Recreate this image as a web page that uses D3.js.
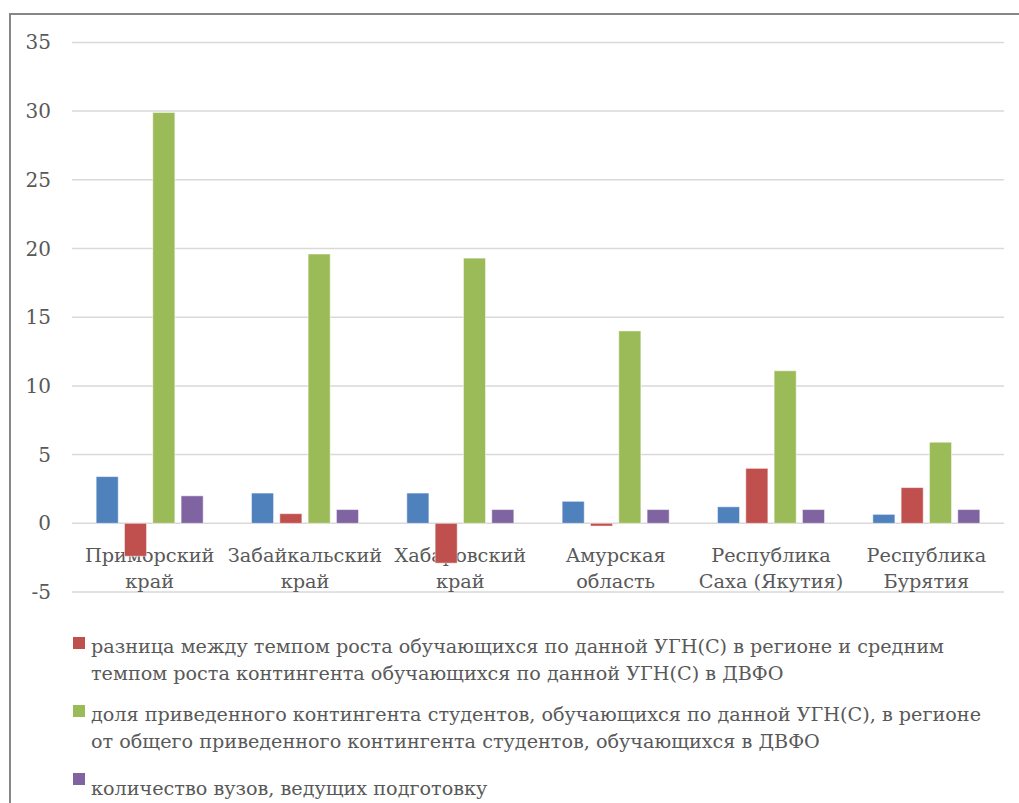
<!DOCTYPE html>
<html>
<head>
<meta charset="utf-8">
<script src="https://cdn.jsdelivr.net/npm/d3@7"></script>
<style>
  html, body { margin: 0; padding: 0; background: #fff; }
</style>
</head>
<body>
<div id="chart"></div>
<script>
// categories (two-line labels)
var regions = [
  ["Приморский", "край"],
  ["Забайкальский", "край"],
  ["Хабаровский", "край"],
  ["Амурская", "область"],
  ["Республика", "Саха (Якутия)"],
  ["Республика", "Бурятия"]
]

// series values
var blueVals   = [3.4, 2.2, 2.2, 1.6, 1.2, 0.65]
var redVals    = [-2.4, 0.7, -2.9, -0.2, 4.0, 2.6]
var greenVals  = [29.9, 19.6, 19.3, 14.0, 11.1, 5.9]
var purpleVals = [2, 1, 1, 1, 1, 1]

var seriesNames = ["s1", "s2", "s3", "s4"]
var seriesColors = ["#4F81BD", "#C0504D", "#9BBB59", "#8064A2"]

var yTicks = [-5, 0, 5, 10, 15, 20, 25, 30, 35]

// legend (first entry is not visible in the picture)
var legendItems = [
  {color: "#C0504D", lines: ["разница между темпом роста обучающихся по данной УГН(С) в регионе и средним",
                             "темпом роста контингента обучающихся по данной УГН(С) в ДВФО"]},
  {color: "#9BBB59", lines: ["доля приведенного контингента студентов, обучающихся по данной УГН(С), в регионе",
                             "от общего приведенного контингента студентов, обучающихся в ДВФО"]},
  {color: "#8064A2", lines: ["количество вузов, ведущих подготовку"]}
]

var width = 1019, height = 803
var fontFam = "'DejaVu Serif', serif"

var svg = d3.select("#chart")
    .append("svg")
    .attr("width", width)
    .attr("height", height)
    .style("font-family", fontFam)

// outer frame (left and top edges visible)
svg.append("path")
    .attr("d", "M10,803 L10,14 L1019,14")
    .style("fill", "none")
    .style("stroke", "#868686")
    .style("stroke-width", 2)

var x = d3.scaleBand()
    .domain(d3.range(regions.length))
    .range([72, 1004])
    .paddingInner(0.311)
    .paddingOuter(0.1555)

var xs = d3.scaleBand()
    .domain(seriesNames)
    .range([0, x.bandwidth()])
    .paddingInner(0.22)

var y = d3.scaleLinear()
    .domain([-5, 35])
    .range([592, 42.4])

// gridlines
svg.append("g")
    .selectAll("line")
    .data(yTicks)
    .enter()
    .append("line")
    .attr("x1", 72)
    .attr("x2", 1004)
    .attr("y1", function(d){ return y(d) })
    .attr("y2", function(d){ return y(d) })
    .style("stroke", "#d9d9d9")
    .style("stroke-width", 1.5)

// y tick labels
svg.append("g")
    .selectAll("text")
    .data(yTicks)
    .enter()
    .append("text")
    .attr("x", 51)
    .attr("y", function(d){ return y(d) })
    .attr("dy", "0.35em")
    .attr("text-anchor", "end")
    .attr("font-size", 20)
    .style("fill", "#595959")
    .text(function(d){ return d })

// category labels (drawn under the bars)
var cat = svg.append("g")
    .selectAll("text")
    .data(regions)
    .enter()
    .append("text")
    .attr("text-anchor", "middle")
    .attr("font-size", 19.3)
    .style("fill", "#595959")

cat.each(function(d, i){
    var t = d3.select(this)
    var cx = x(i) + x.bandwidth() / 2
    d.forEach(function(line, k){
        t.append("tspan")
            .attr("x", cx)
            .attr("y", 562 + k * 26)
            .text(line)
    })
})

// bars
var allSeries = [blueVals, redVals, greenVals, purpleVals]
var barData = []
allSeries.forEach(function(vals, s){
    vals.forEach(function(v, i){
        barData.push({cat: i, s: s, v: v})
    })
})

svg.append("g")
    .selectAll("rect")
    .data(barData)
    .enter()
    .append("rect")
    .attr("x", function(d){ return x(d.cat) + xs(seriesNames[d.s]) })
    .attr("width", xs.bandwidth())
    .attr("y", function(d){ return y(Math.max(0, d.v)) })
    .attr("height", function(d){ return Math.abs(y(d.v) - y(0)) })
    .style("fill", function(d){ return seriesColors[d.s] })
    .style("stroke", "#ffffff")
    .style("stroke-opacity", 0.5)
    .style("stroke-width", 1)

// legend
var legendTop = [637, 705, 773]
var legend = svg.append("g")
    .selectAll("g")
    .data(legendItems)
    .enter()
    .append("g")

legend.append("rect")
    .attr("x", 73)
    .attr("y", function(d, i){ return legendTop[i] })
    .attr("width", 12)
    .attr("height", 12)
    .style("fill", function(d){ return d.color })

legend.append("text")
    .attr("font-size", 19.2)
    .style("fill", "#595959")
    .each(function(d, i){
        var t = d3.select(this)
        var base = i == 2 ? 795 : legendTop[i] + 16
        d.lines.forEach(function(line, k){
            t.append("tspan")
                .attr("x", 91)
                .attr("y", base + k * 26.5)
                .text(line)
        })
    })
</script>
</body>
</html>
